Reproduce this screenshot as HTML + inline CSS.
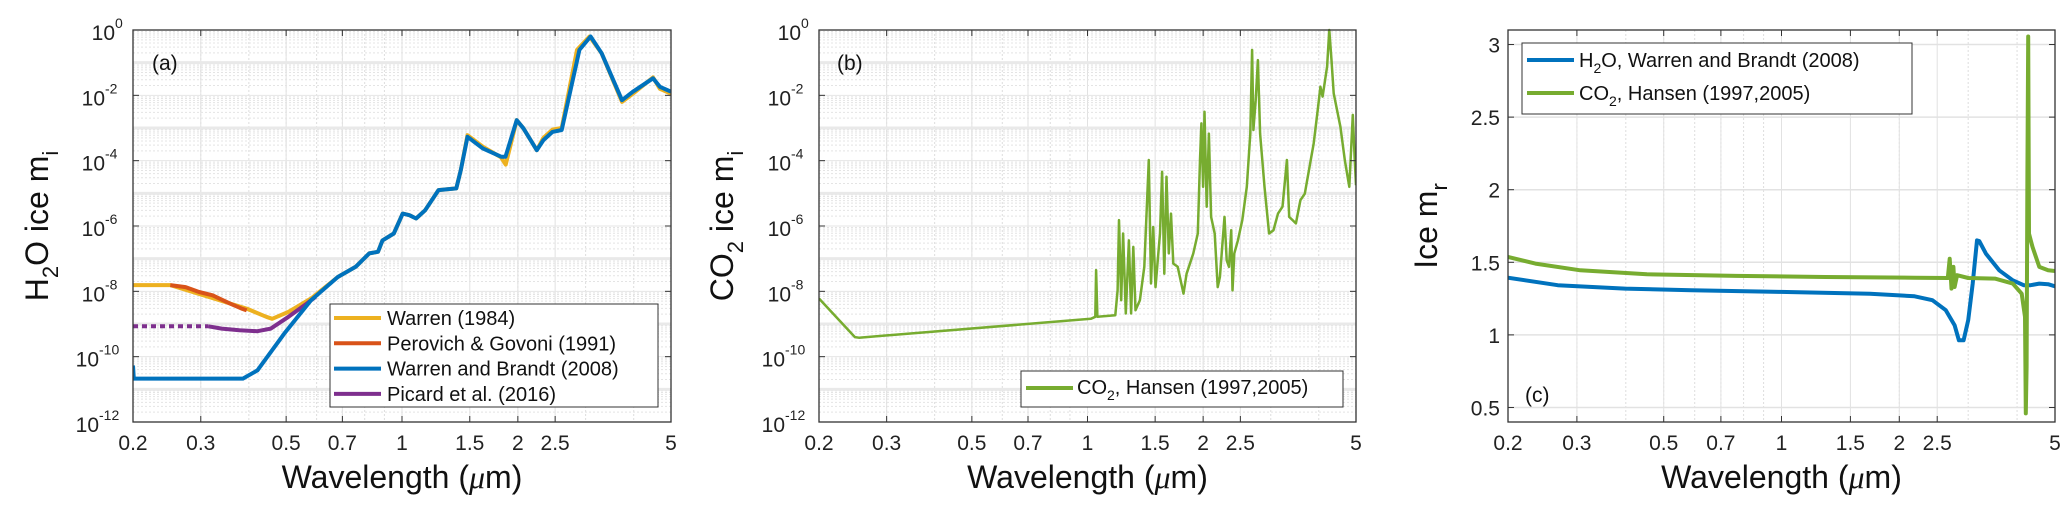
<!DOCTYPE html>
<html><head><meta charset="utf-8"><style>
html,body{margin:0;padding:0;background:#fff;}
svg{display:block;font-family:"Liberation Sans","DejaVu Sans",sans-serif;}
</style></head><body>
<svg id="fig" width="2067" height="513" viewBox="0 0 2067 513" xmlns="http://www.w3.org/2000/svg"></svg>
<script>
// ---------- data ----------
const xTicks = [0.2,0.3,0.5,0.7,1,1.5,2,2.5,5];
const xTickLabels = ["0.2","0.3","0.5","0.7","1","1.5","2","2.5","5"];
const xMinor = [0.2,0.3,0.4,0.5,0.6,0.7,0.8,0.9,1,2,3,4,5];
const yLogTicks = [0,-2,-4,-6,-8,-10,-12];
const yLinTicks = [0.5,1,1.5,2,2.5,3];
const yLinTickLabels = ["0.5","1","1.5","2","2.5","3"];

// panel a (log10 values)
const wbLam = [0.2,0.201,0.386,0.421,0.494,0.580,0.681,0.758,0.822,0.866,0.890,0.952,1.004,1.045,1.088,1.148,1.244,1.384,1.422,1.480,1.625,1.809,1.858,1.986,2.068,2.24,2.33,2.46,2.60,2.89,3.09,3.30,3.73,3.98,4.49,4.68,5.0];
const wbLog = [-10.27,-10.67,-10.67,-10.42,-9.30,-8.27,-7.56,-7.25,-6.84,-6.79,-6.44,-6.23,-5.62,-5.67,-5.77,-5.52,-4.90,-4.85,-4.29,-3.27,-3.63,-3.88,-3.88,-2.76,-3.01,-3.68,-3.37,-3.12,-3.06,-0.61,-0.20,-0.71,-2.15,-1.89,-1.48,-1.74,-1.89];
const w84Lam = [0.2,0.25,0.395,0.444,0.46,0.507,0.58,0.681,0.758,0.822,0.866,0.890,0.952,1.004,1.045,1.088,1.148,1.244,1.384,1.422,1.48,1.625,1.809,1.86,1.986,2.068,2.24,2.33,2.46,2.60,2.85,3.07,3.30,3.73,3.98,4.49,4.68,5.0];
const w84Log = [-7.81,-7.81,-8.53,-8.78,-8.84,-8.63,-8.22,-7.56,-7.25,-6.84,-6.79,-6.44,-6.23,-5.62,-5.67,-5.77,-5.52,-4.90,-4.85,-4.29,-3.22,-3.58,-3.90,-4.12,-2.76,-3.01,-3.68,-3.30,-3.05,-3.00,-0.61,-0.20,-0.71,-2.20,-1.95,-1.45,-1.80,-1.95];
const pgLam = [0.25,0.274,0.297,0.322,0.358,0.383,0.395];
const pgLog = [-7.81,-7.87,-8.02,-8.12,-8.38,-8.53,-8.58];
const picDotLam = [0.2,0.314];
const picDotLog = [-9.07,-9.07];
const picLam = [0.314,0.340,0.378,0.421,0.456,0.507,0.565,0.596];
const picLog = [-9.07,-9.14,-9.19,-9.22,-9.14,-8.78,-8.38,-8.17];

// panel b
const co2Lam = [0.2,0.248,0.254,1.020,1.048,1.053,1.061,1.181,1.198,1.208,1.224,1.238,1.258,1.282,1.299,1.316,1.333,1.369,1.406,1.444,1.463,1.483,1.503,1.544,1.564,1.585,1.606,1.628,1.650,1.672,1.717,1.778,1.811,1.886,1.937,1.963,1.979,2.000,2.016,2.043,2.070,2.098,2.143,2.183,2.212,2.242,2.273,2.304,2.335,2.366,2.385,2.411,2.463,2.529,2.598,2.654,2.683,2.704,2.740,2.777,2.814,2.890,2.970,3.050,3.133,3.218,3.305,3.350,3.487,3.582,3.679,3.880,3.985,4.039,4.093,4.204,4.260,4.317,4.375,4.553,4.676,4.802,4.906,4.959,5.0];
const co2Log = [-8.22,-9.40,-9.42,-8.84,-8.78,-7.35,-8.78,-8.73,-7.97,-5.82,-8.27,-6.23,-8.68,-6.44,-8.68,-6.64,-8.58,-8.27,-7.25,-3.98,-7.76,-6.03,-7.87,-6.23,-4.34,-7.46,-4.49,-6.84,-5.62,-7.15,-7.25,-8.07,-7.46,-6.84,-6.23,-3.98,-2.86,-4.80,-2.50,-5.41,-3.17,-5.72,-6.23,-7.87,-7.56,-6.64,-5.72,-7.05,-7.25,-6.13,-7.97,-6.84,-6.44,-5.82,-4.80,-3.17,-0.61,-3.06,-2.15,-0.92,-3.17,-4.80,-6.23,-6.13,-5.62,-5.41,-3.98,-5.72,-5.92,-5.21,-5.01,-3.47,-2.35,-1.74,-2.04,-1.12,0,-0.92,-1.94,-2.96,-3.98,-4.80,-2.60,-3.88,-4.75];

// panel c
const h2oRLam = [0.2,0.268,0.398,0.589,0.996,1.683,2.189,2.43,2.63,2.77,2.84,2.92,3.00,3.08,3.16,3.20,3.33,3.60,3.90,4.16,4.33,4.56,4.80,5.0];
const h2oR = [1.394,1.342,1.319,1.307,1.296,1.284,1.266,1.239,1.170,1.067,0.963,0.963,1.101,1.353,1.651,1.647,1.560,1.445,1.376,1.342,1.342,1.353,1.349,1.335];
const co2RLam = [0.2,0.235,0.306,0.453,0.766,1.294,2.189,2.66,2.69,2.72,2.75,2.77,2.81,3.00,3.51,3.90,4.11,4.19,4.21,4.23,4.25,4.27,4.29,4.38,4.56,4.80,5.0];
const co2R = [1.537,1.491,1.445,1.417,1.406,1.399,1.394,1.392,1.525,1.319,1.468,1.330,1.411,1.392,1.388,1.353,1.284,1.124,0.459,0.780,2.110,3.055,1.697,1.606,1.468,1.445,1.440];

// ---------- drawing ----------
const NS="http://www.w3.org/2000/svg";
const svg=document.getElementById('fig');
function el(tag,attrs,parent){const e=document.createElementNS(NS,tag);for(const k in attrs)e.setAttribute(k,attrs[k]);(parent||svg).appendChild(e);return e;}
const X0=0.2,X1=5;
function makeX(L,R){return v=>L+(Math.log(v/X0)/Math.log(X1/X0))*(R-L);}
const T=30,B=422;
function yLog(v){return T+(0-v)/12*(B-T);}
const yLinMin=0.4,yLinMax=3.1;
function yLin(v){return B-(v-yLinMin)/(yLinMax-yLinMin)*(B-T);}

function grid(g,L,R,xs,isLog){
  xMinor.forEach(v=>{const x=xs(v);
    const l=el('line',{x1:x,x2:x,y1:T,y2:B,stroke:'#ddd','stroke-width':1,'stroke-dasharray':'2,2'},g);
    });
  xTicks.forEach(v=>{const x=xs(v);
    const l=el('line',{x1:x,x2:x,y1:T,y2:B,stroke:'#e2e2e2','stroke-width':1},g);
    });
  if(isLog){
    for(let d=-12;d<0;d++){for(let m=2;m<=9;m++){const y=yLog(d+Math.log10(m));
      const l=el('line',{x1:L,x2:R,y1:y,y2:y,stroke:'#e4e4e4','stroke-width':1,'stroke-dasharray':'2,2'},g);
      }}
    for(let d=-12;d<=0;d++){const y=yLog(d);
      const l=el('line',{x1:L,x2:R,y1:y,y2:y,stroke:(d%2===0?'#e6e6e6':'#e9e9e9'),'stroke-width':(d%2===0?1:3)},g);
      }
  } else {
    yLinTicks.forEach(v=>{const y=yLin(v);
      const l=el('line',{x1:L,x2:R,y1:y,y2:y,stroke:'#e2e2e2','stroke-width':1.5},g);
      });
  }
}
function frame(g,L,R,xs,isLog){
  const r=el('rect',{x:L,y:T,width:R-L,height:B-T,fill:'none',stroke:'#333','stroke-width':1.3},g);
  
  xTicks.forEach((v,i)=>{const x=xs(v);
    el('line',{x1:x,x2:x,y1:B,y2:B-6,stroke:'#333'},g);el('line',{x1:x,x2:x,y1:T,y2:T+6,stroke:'#333'},g);
    const t=el('text',{x:x,y:450,'font-size':21,'text-anchor':'middle',fill:'#222'},g);t.textContent=xTickLabels[i];
    });
  const xl=el('text',{x:(L+R)/2,y:488,'font-size':32,'text-anchor':'middle',fill:'#111'},g);
  xl.innerHTML='Wavelength (<tspan font-style="italic" font-family="Liberation Serif">μ</tspan>m)';
  
  if(isLog){
    yLogTicks.forEach(d=>{const y=yLog(d);
      el('line',{x1:L,x2:L+6,y1:y,y2:y,stroke:'#333'},g);el('line',{x1:R,x2:R-6,y1:y,y2:y,stroke:'#333'},g);
      const t=el('text',{x:L-6-(d<=-10?28:(d<0?22:12)),y:y+10,'font-size':21,'text-anchor':'end',fill:'#222'},g);t.textContent='10';
      
      const s=el('text',{x:L-6-(d<=-10?28:(d<0?22:12)),y:y-2,'font-size':14,'text-anchor':'start',fill:'#222'},g);s.textContent=String(d);
      });
  } else {
    yLinTicks.forEach((v,i)=>{const y=yLin(v);
      el('line',{x1:L,x2:L+6,y1:y,y2:y,stroke:'#333'},g);el('line',{x1:R,x2:R-6,y1:y,y2:y,stroke:'#333'},g);
      const t=el('text',{x:L-8,y:y+8,'font-size':21,'text-anchor':'end',fill:'#222'},g);t.textContent=yLinTickLabels[i];
      });
  }
}
function line(g,lams,vals,xs,ys,color,w,dash,name){
  const d=lams.map((l,i)=>(i?'L':'M')+xs(l).toFixed(1)+','+ys(vals[i]).toFixed(1)).join(' ');
  const p=el('path',{d:d,fill:'none',stroke:color,'stroke-width':w,'stroke-linejoin':'round'},g);
  if(dash)p.setAttribute('stroke-dasharray',dash);
  
}
function clip(id,L,R){const c=el('clipPath',{id:id});el('rect',{x:L,y:T-2,width:R-L,height:B-T+4},c);}

// Panel A
const ga=el('g',{});
const LA=133,RA=671,xa=makeX(LA,RA);
grid(ga,LA,RA,xa,true);clip('ca',LA,RA);
const sa=el('g',{'clip-path':'url(#ca)'},ga);
line(sa,w84Lam,w84Log,xa,yLog,'#EDB120',4,null,'series-warren-1984');
line(sa,pgLam,pgLog,xa,yLog,'#D95319',4,null,'series-perovich-govoni-1991');
line(sa,picDotLam,picDotLog,xa,yLog,'#7E2F8E',4,'5,4','series-picard-2016-dotted');
line(sa,picLam,picLog,xa,yLog,'#7E2F8E',4,null,'series-picard-2016');
line(sa,wbLam,wbLog,xa,yLog,'#0072BD',4,null,'series-warren-brandt-2008');
frame(ga,LA,RA,xa,true);
let t=el('text',{x:152,y:70,'font-size':21,fill:'#111'},ga);t.textContent='(a)';
t=el('text',{x:0,y:0,'font-size':32,'text-anchor':'middle',fill:'#111',transform:'translate(48,226) rotate(-90)'},ga);
t.innerHTML='H<tspan font-size="22" dy="10">2</tspan><tspan dy="-10">O ice m</tspan><tspan font-size="22" dy="10">i</tspan>';

const lga=el('g',{},ga);
el('rect',{x:330,y:304,width:328,height:103,fill:'#fff',stroke:'#333','stroke-width':1},lga);
const legA=[['Warren (1984)','#EDB120'],['Perovich & Govoni (1991)','#D95319'],['Warren and Brandt (2008)','#0072BD'],['Picard et al. (2016)','#7E2F8E']];
legA.forEach((e,i)=>{const y=318+i*25.3;
  const l=el('line',{x1:334,x2:381,y1:y,y2:y,stroke:e[1],'stroke-width':4},lga);
  const tx=el('text',{x:387,y:y+7,'font-size':20,fill:'#111'},lga);tx.textContent=e[0];});

// Panel B
const gb=el('g',{});
const LB=819,RB=1356,xb=makeX(LB,RB);
grid(gb,LB,RB,xb,true);clip('cb',LB,RB);
const sb=el('g',{'clip-path':'url(#cb)'},gb);
line(sb,co2Lam,co2Log,xb,yLog,'#77AC30',2.5,null,'series-co2-hansen');
frame(gb,LB,RB,xb,true);
t=el('text',{x:837,y:70,'font-size':21,fill:'#111'},gb);t.textContent='(b)';
t=el('text',{x:0,y:0,'font-size':32,'text-anchor':'middle',fill:'#111',transform:'translate(733,226) rotate(-90)'},gb);
t.innerHTML='CO<tspan font-size="22" dy="10">2</tspan><tspan dy="-10"> ice m</tspan><tspan font-size="22" dy="10">i</tspan>';

const lgb=el('g',{},gb);
el('rect',{x:1021,y:371,width:322,height:36,fill:'#fff',stroke:'#333','stroke-width':1},lgb);
let l=el('line',{x1:1026,x2:1073,y1:388,y2:388,stroke:'#77AC30','stroke-width':4},lgb);
t=el('text',{x:1077,y:394,'font-size':20,fill:'#111'},lgb);t.innerHTML='CO<tspan font-size="14" dy="6">2</tspan><tspan dy="-6">, Hansen (1997,2005)</tspan>';


// Panel C
const gc=el('g',{});
const LC=1508,RC=2055,xc=makeX(LC,RC);
grid(gc,LC,RC,xc,false);clip('cc',LC,RC);
const sc=el('g',{'clip-path':'url(#cc)'},gc);
line(sc,h2oRLam,h2oR,xc,yLin,'#0072BD',4,null,'series-h2o-real');
line(sc,co2RLam,co2R,xc,yLin,'#77AC30',4,null,'series-co2-real');
frame(gc,LC,RC,xc,false);
t=el('text',{x:1525,y:402,'font-size':21,fill:'#111'},gc);t.textContent='(c)';
t=el('text',{x:0,y:0,'font-size':32,'text-anchor':'middle',fill:'#111',transform:'translate(1437,226) rotate(-90)'},gc);
t.innerHTML='Ice m<tspan font-size="22" dy="10">r</tspan>';

const lgc=el('g',{},gc);
el('rect',{x:1522,y:43,width:390,height:71,fill:'#fff',stroke:'#333','stroke-width':1},lgc);
const legC=[['H','O, Warren and Brandt (2008)','#0072BD'],['CO',', Hansen (1997,2005)','#77AC30']];
legC.forEach((e,i)=>{const y=60+i*33;
  const s=el('line',{x1:1527,x2:1574,y1:y,y2:y,stroke:e[2],'stroke-width':4},lgc);
  const tx=el('text',{x:1579,y:y+7,'font-size':20,fill:'#111'},lgc);
  tx.innerHTML=e[0]+'<tspan font-size="14" dy="6">2</tspan><tspan dy="-6">'+e[1]+'</tspan>';
  });
</script>
</body></html>
